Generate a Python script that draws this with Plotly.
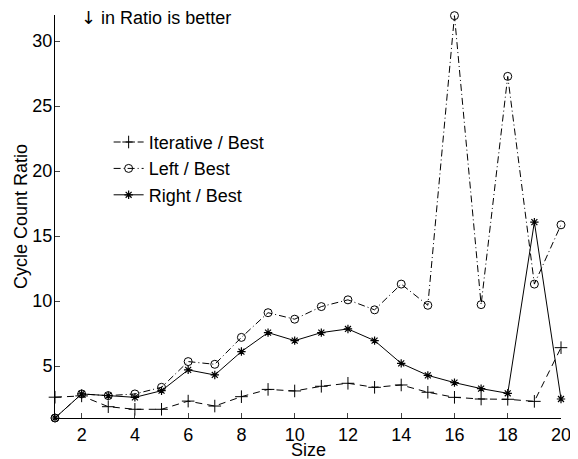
import plotly.graph_objects as go

sizes = list(range(1, 21))
iterative = [2.6, 2.7, 1.87, 1.67, 1.67, 2.3, 1.92, 2.64, 3.2, 3.08,
             3.44, 3.67, 3.36, 3.54, 2.98, 2.59, 2.46, 2.44, 2.28, 6.41]
left = [1.0, 2.85, 2.72, 2.85, 3.36, 5.34, 5.13, 7.2, 9.1, 8.6,
        9.57, 10.09, 9.32, 11.3, 9.67, 31.95, 9.72, 27.28, 11.3, 15.86]
right = [1.0, 2.85, 2.72, 2.59, 3.1, 4.7, 4.31, 6.11, 7.57, 6.95,
         7.57, 7.85, 6.95, 5.2, 4.28, 3.72, 3.26, 2.9, 16.07, 2.46]
xticks = [2, 4, 6, 8, 10, 12, 14, 16, 18, 20]
yticks = [5, 10, 15, 20, 25, 30]

FONT = "Liberation Sans, Arial, Helvetica, sans-serif"
FS = 18
BODY = 8  # default page body margin; figure is sized to fit the window

fig = go.Figure()
fig.add_trace(go.Scatter(
    x=sizes, y=iterative, name="Iterative / Best", mode="lines+markers",
    line=dict(color="black", width=1, dash="7px,5px"),
    marker=dict(symbol="cross-thin", size=9, color="black",
                line=dict(color="black", width=1)),
    cliponaxis=False))
fig.add_trace(go.Scatter(
    x=sizes, y=left, name="Left / Best", mode="lines+markers",
    line=dict(color="black", width=1, dash="7px,3px,1px,3px"),
    marker=dict(symbol="circle-open", size=8, color="black",
                line=dict(color="black", width=1)),
    cliponaxis=False))
fig.add_trace(go.Scatter(
    x=sizes, y=right, name="Right / Best", mode="lines+markers",
    line=dict(color="black", width=1),
    marker=dict(symbol="asterisk-open", size=7, color="black",
                line=dict(color="black", width=1.2)),
    cliponaxis=False))

fig.update_layout(
    width=578 - BODY, height=459 - BODY,
    margin=dict(l=55 - BODY, r=11, t=15 - BODY, b=41),
    paper_bgcolor="white", plot_bgcolor="white",
    font=dict(family=FONT, size=FS, color="black"),
    showlegend=True,
    legend=dict(x=0.106, y=0.73, xanchor="left", yanchor="top",
                bgcolor="rgba(0,0,0,0)", borderwidth=0,
                font=dict(size=FS), itemwidth=30, tracegroupgap=0),
    annotations=[
        dict(text="<span style=\"font-family:'DejaVu Sans'\">↓</span> in Ratio is better",
             xref="paper", yref="paper",
             x=0.2, y=1.0, yshift=-2, xanchor="center", yanchor="middle",
             showarrow=False, font=dict(size=FS)),
        dict(text="Size", xref="paper", yref="paper",
             x=0.5, y=0, yshift=-32, xanchor="center", yanchor="middle",
             showarrow=False, font=dict(size=FS)),
    ],
)
fig.update_xaxes(
    range=[1, 20], tickvals=xticks, ticks="inside", ticklen=5,
    showline=True, linecolor="black", linewidth=1, showgrid=False,
    zeroline=False, tickfont=dict(size=FS))
fig.update_yaxes(
    range=[1, 32], tickvals=yticks, ticks="inside", ticklen=5,
    showline=True, linecolor="black", linewidth=1, showgrid=False,
    zeroline=False, tickfont=dict(size=FS), ticklabelstandoff=-2,
    title=dict(text="Cycle Count Ratio", font=dict(size=FS), standoff=0))

fig.write_html("out.html")
